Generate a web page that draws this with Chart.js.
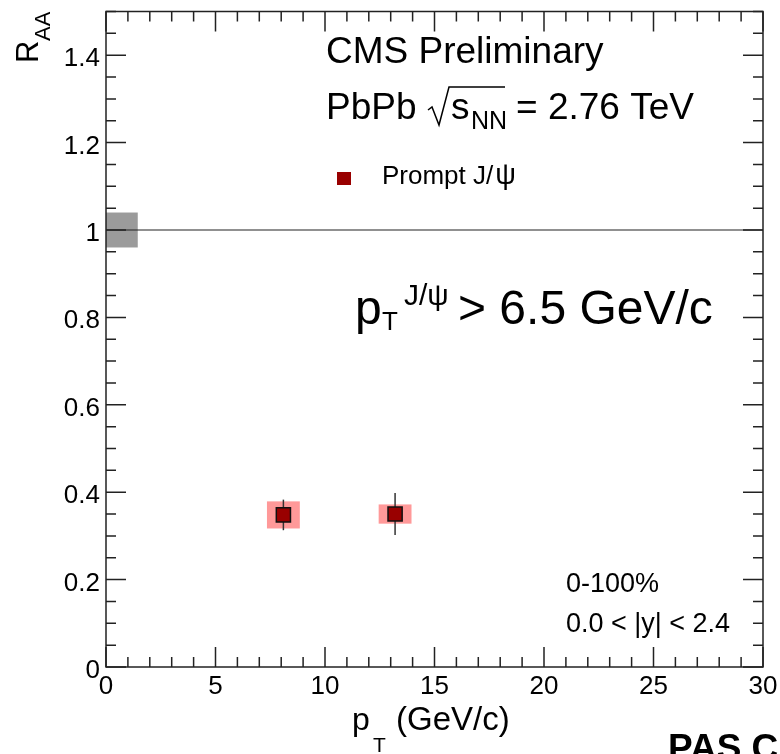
<!DOCTYPE html>
<html>
<head>
<meta charset="utf-8">
<script src="https://cdn.jsdelivr.net/npm/chart.js@4/dist/chart.umd.min.js"></script>
<style>
  body { margin: 0; background: #fff; }
  canvas { display: block; }
</style>
</head>
<body>
<canvas id="raaChart" width="780" height="754"></canvas>
<script>
// values
const ptCenters = [8.1, 13.2];
const raaValues = [0.348, 0.350];
const statErrors = [0.035, 0.048];
const systErrors = [0.031, 0.022];
const systHalfWidths = [0.75, 0.75];
const globalSyst = 0.04;
const globalBoxWidth = 1.45;
const unityLine = [0, 30];

const xMajorTicks = [0, 5, 10, 15, 20, 25, 30];
const yMajorTicks = [0, 0.2, 0.4, 0.6, 0.8, 1.0, 1.2, 1.4];
const yTickLabels = ['0', '0.2', '0.4', '0.6', '0.8', '1', '1.2', '1.4'];

const FONT = '"Liberation Sans", Arial, Helvetica, sans-serif';

// draws text, returns x after it
function txt(ctx, s, x, y, size, bold) {
  ctx.font = (bold ? 'bold ' : '') + size + 'px ' + FONT;
  ctx.fillText(s, x, y);
  return x + ctx.measureText(s).width;
}

const rootStyle = {
  id: 'rootStyle',
  beforeDatasetsDraw(chart) {
    const ctx = chart.ctx;
    const xs = chart.scales.x, ys = chart.scales.y;
    ctx.save();
    // global uncertainty box at unity
    ctx.fillStyle = '#9b9b9b';
    const gx0 = xs.getPixelForValue(0), gx1 = xs.getPixelForValue(globalBoxWidth);
    const gy0 = ys.getPixelForValue(1 + globalSyst), gy1 = ys.getPixelForValue(1 - globalSyst);
    ctx.fillRect(gx0, gy0, gx1 - gx0, gy1 - gy0);
    // systematic boxes
    ctx.fillStyle = '#ff9999';
    for (let i = 0; i < ptCenters.length; i++) {
      const x0 = xs.getPixelForValue(ptCenters[i] - systHalfWidths[i]);
      const x1 = xs.getPixelForValue(ptCenters[i] + systHalfWidths[i]);
      const y0 = ys.getPixelForValue(raaValues[i] + systErrors[i]);
      const y1 = ys.getPixelForValue(raaValues[i] - systErrors[i]);
      ctx.fillRect(x0, y0, x1 - x0, y1 - y0);
    }
    // statistical error bars
    ctx.strokeStyle = '#333';
    ctx.lineWidth = 1.5;
    for (let i = 0; i < ptCenters.length; i++) {
      const x = xs.getPixelForValue(ptCenters[i]);
      ctx.beginPath();
      ctx.moveTo(x, ys.getPixelForValue(raaValues[i] + statErrors[i]));
      ctx.lineTo(x, ys.getPixelForValue(raaValues[i] - statErrors[i]));
      ctx.stroke();
    }
    ctx.restore();
  },
  afterDraw(chart) {
    const ctx = chart.ctx;
    const xs = chart.scales.x, ys = chart.scales.y;
    const a = chart.chartArea;
    ctx.save();
    ctx.strokeStyle = '#222';
    ctx.lineWidth = 1.5;
    ctx.strokeRect(a.left, a.top, a.right - a.left, a.bottom - a.top);

    // ticks on all four sides, pointing inward
    ctx.beginPath();
    for (let v = 0; v <= 30; v++) {
      const x = xs.getPixelForValue(v);
      const len = v % 5 === 0 ? 20 : 10;
      ctx.moveTo(x, a.bottom); ctx.lineTo(x, a.bottom - len);
      ctx.moveTo(x, a.top); ctx.lineTo(x, a.top + len);
    }
    for (let k = 0; k <= 30; k++) {
      const v = k * 0.05;
      const y = ys.getPixelForValue(v);
      const len = k % 4 === 0 ? 20 : 10;
      ctx.moveTo(a.left, y); ctx.lineTo(a.left + len, y);
      ctx.moveTo(a.right, y); ctx.lineTo(a.right - len, y);
    }
    ctx.stroke();

    // tick labels
    ctx.fillStyle = '#000';
    ctx.textAlign = 'right';
    yMajorTicks.forEach((v, i) => {
      txt(ctx, yTickLabels[i], a.left - 6, ys.getPixelForValue(v) + 11, 26);
    });
    ctx.textAlign = 'center';
    xMajorTicks.forEach(v => {
      txt(ctx, String(v), xs.getPixelForValue(v), 694, 26);
    });

    // axis titles
    ctx.textAlign = 'left';
    txt(ctx, 'p', 352, 730, 32);
    txt(ctx, 'T', 373, 752, 21);
    txt(ctx, '(GeV/c)', 396, 730, 33);

    ctx.save();
    ctx.translate(38, 63);
    ctx.rotate(-Math.PI / 2);
    txt(ctx, 'R', 0, 0, 31);
    txt(ctx, 'AA', 22, 12, 22);
    ctx.restore();

    // header
    txt(ctx, 'CMS Preliminary', 326, 63, 37);
    txt(ctx, 'PbPb', 326, 119, 37);
    ctx.lineWidth = 1.5;
    ctx.strokeStyle = '#000';
    ctx.beginPath();
    ctx.moveTo(428, 110); ctx.lineTo(432, 107); ctx.lineTo(439, 125);
    ctx.lineTo(449, 87); ctx.lineTo(505, 87);
    ctx.stroke();
    txt(ctx, 's', 451, 119, 37);
    txt(ctx, 'NN', 471, 129, 25);
    txt(ctx, '= 2.76 TeV', 516, 119, 37);

    // legend
    ctx.fillStyle = '#990000';
    ctx.fillRect(337, 172, 14, 13);
    ctx.fillStyle = '#000';
    let lx = txt(ctx, 'Prompt J/', 382, 184, 26);
    txt(ctx, '\u03c8', lx + 2, 184, 29);

    // cut label
    txt(ctx, 'p', 355, 324, 48);
    txt(ctx, 'T', 382, 330, 26);
    txt(ctx, 'J/\u03c8', 404, 305, 30);
    txt(ctx, '> 6.5 GeV/c', 458, 324, 48);

    // centrality / rapidity
    txt(ctx, '0-100%', 566, 592, 27);
    txt(ctx, '0.0 < |y| < 2.4', 566, 632, 27);

    txt(ctx, 'PAS C', 668, 760, 37, true);
    ctx.restore();
  }
};

new Chart(document.getElementById('raaChart'), {
  type: 'scatter',
  data: {
    datasets: [
      {
        type: 'line',
        data: unityLine.map(x => ({ x: x, y: 1 })),
        borderColor: '#222',
        borderWidth: 1.2,
        pointRadius: 0
      },
      {
        label: 'Prompt J/\u03c8',
        data: ptCenters.map((x, i) => ({ x: x, y: raaValues[i] })),
        pointStyle: 'rect',
        pointRadius: 10,
        backgroundColor: '#990000',
        borderColor: '#111',
        borderWidth: 1.5
      }
    ]
  },
  options: {
    responsive: false,
    devicePixelRatio: 1,
    animation: false,
    layout: { padding: { left: 106, right: 17, top: 8, bottom: 87 } },
    plugins: { legend: { display: false }, tooltip: { enabled: false } },
    scales: {
      x: { type: 'linear', min: 0, max: 30, display: false },
      y: { type: 'linear', min: 0, max: 1.5, display: false }
    }
  },
  plugins: [rootStyle]
});
</script>
</body>
</html>
